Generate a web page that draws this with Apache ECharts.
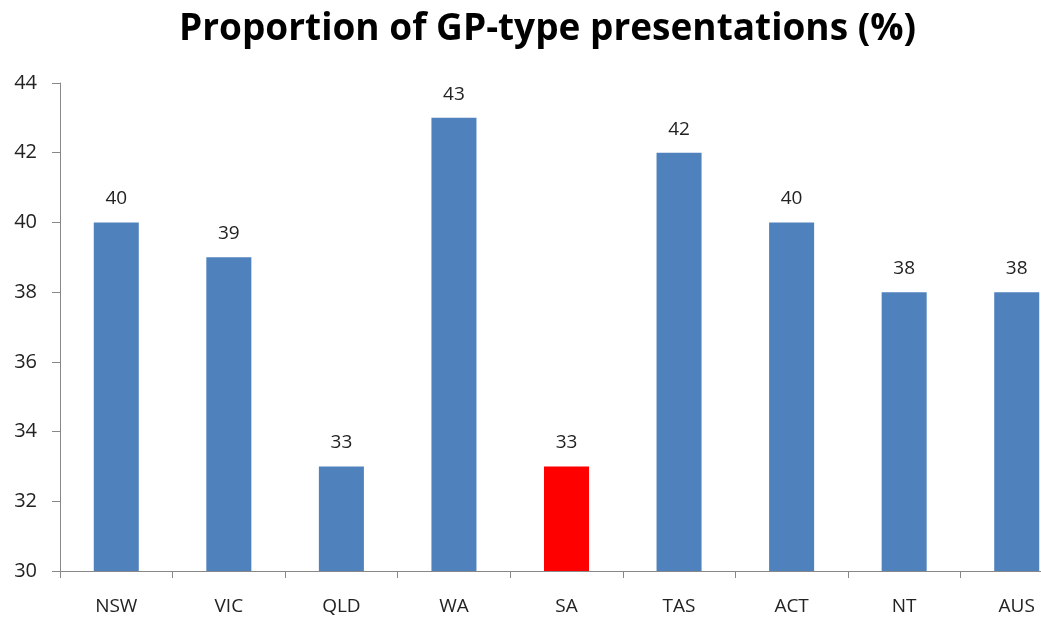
<!DOCTYPE html>
<html>
<head>
<meta charset="utf-8">
<script src="https://cdn.jsdelivr.net/npm/echarts@6/dist/echarts.min.js"></script>
<style>
  html, body { margin: 0; padding: 0; background: #fff; }
  #chart { width: 1041px; height: 624px; }
</style>
</head>
<body>
<div id="chart"></div>
<script>
// 数据
const categories = ['NSW', 'VIC', 'QLD', 'WA', 'SA', 'TAS', 'ACT', 'NT', 'AUS']
const values = [40, 39, 33, 43, 33, 42, 40, 38, 38]
const highlight = 'SA'
const yTicks = [30, 32, 34, 36, 38, 40, 42, 44]

const font = '"Open Sans", "Liberation Sans", sans-serif'

;(function () {
  let myCharts = echarts.init(document.getElementById('chart'))
  let option = {
    animation: false,
    title: {
      text: 'Proportion of GP-type presentations (%)',
      left: 174,
      top: 6,
      textStyle: { fontFamily: font, fontWeight: 'bold', fontSize: 37, color: '#000' }
    },
    // 右侧绘图区超出画布（原图被裁切）
    grid: { left: 60, top: 83, right: -32, bottom: 53, outerBoundsMode: 'none' },
    xAxis: {
      type: 'category',
      data: categories,
      axisLine: { lineStyle: { color: '#888', width: 1 } },
      axisTick: { show: true, length: 7, lineStyle: { color: '#888' } },
      axisLabel: { color: '#222', fontSize: 19, fontFamily: font, margin: 26 }
    },
    yAxis: {
      type: 'value',
      min: yTicks[0],
      max: yTicks[yTicks.length - 1],
      interval: 2,
      axisLine: { show: true, lineStyle: { color: '#888', width: 1 } },
      axisTick: { show: true, inside: false, length: 8, lineStyle: { color: '#888' } },
      splitLine: { show: false },
      axisLabel: { color: '#222', fontSize: 20, fontFamily: font, margin: 23 }
    },
    series: [{
      type: 'bar',
      barCategoryGap: '60%',
      data: values.map(function (v, i) {
        return {
          value: v,
          itemStyle: { color: categories[i] === highlight ? '#FF0000' : '#4F81BD' }
        }
      }),
      label: {
        show: true,
        position: 'top',
        distance: 14,
        color: '#222',
        fontSize: 19,
        fontFamily: font
      }
    }]
  }
  myCharts.setOption(option)
})()
</script>
</body>
</html>
